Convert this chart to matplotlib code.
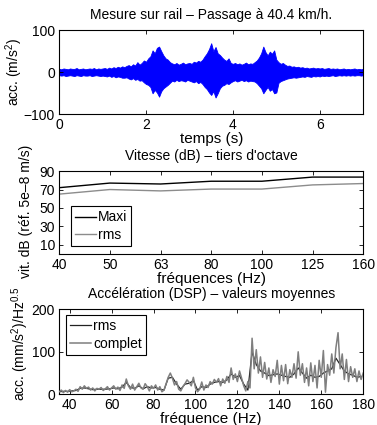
import numpy as np
import matplotlib
matplotlib.use("Agg")
import matplotlib.pyplot as plt

plt.rcParams['font.family'] = ['Liberation Sans', 'DejaVu Sans']
plt.rcParams['mathtext.fontset'] = 'custom'
plt.rcParams['mathtext.rm'] = 'Liberation Sans'
plt.rcParams['mathtext.it'] = 'Liberation Sans'

# ---------------- data ----------------
# Top: acceleration time signal envelope (every 0.05 s from 0 to 7 s)
t_step = 0.05
sig_upper = [8, 7, 9, 8, 7, 9, 8, 8, 10, 7,
             8, 9, 7, 8, 9, 8, 10, 7, 9, 8,
             9, 10, 8, 11, 9, 12, 10, 13, 11, 14,
             12, 15, 17, 14, 19, 16, 24, 18, 22, 28,
             25, 33, 38, 52, 45, 58, 61, 50, 40, 33,
             30, 24, 21, 19, 22, 18, 20, 23, 19, 21,
             22, 20, 25, 23, 27, 25, 30, 38, 45, 55,
             69, 50, 60, 45, 41, 35, 30, 27, 33, 22,
             20, 22, 19, 21, 18, 20, 23, 19, 21, 20,
             24, 28, 35, 45, 61, 48, 40, 49, 44, 52,
             30, 24, 20, 22, 18, 15, 16, 13, 14, 12,
             13, 11, 12, 10, 11, 9, 10, 11, 9, 10,
             9, 10, 8, 9, 10, 8, 9, 8, 9, 7,
             8, 9, 7, 8, 7, 8, 9, 7, 8, 7,
             8]
sig_lower = [-7, -8, -7, -9, -8, -7, -8, -9, -7, -8,
             -9, -7, -8, -8, -7, -9, -8, -7, -8, -9,
             -8, -9, -10, -8, -11, -9, -12, -10, -11, -13,
             -13, -12, -15, -17, -14, -18, -16, -20, -19, -24,
             -28, -30, -35, -50, -42, -48, -58, -45, -38, -34,
             -30, -25, -20, -22, -18, -21, -19, -20, -22, -18,
             -20, -22, -24, -21, -26, -23, -28, -35, -40, -48,
             -54, -45, -60, -50, -38, -32, -30, -26, -28, -24,
             -21, -19, -22, -20, -18, -21, -19, -22, -20, -21,
             -22, -26, -32, -38, -50, -42, -35, -44, -40, -50,
             -48, -25, -21, -19, -17, -15, -14, -13, -12, -13,
             -12, -11, -10, -11, -9, -10, -11, -9, -10, -9,
             -10, -8, -9, -8, -9, -8, -7, -9, -8, -7,
             -8, -7, -8, -7, -8, -7, -8, -7, -7, -8,
             -7]

# Middle: third-octave velocity levels
octave_labels = ['40', '50', '63', '80', '100', '125', '160']
vit_maxi = [72, 77, 76, 79, 79, 83.5, 83.5]
vit_rms = [65, 70, 68.5, 70.5, 70.5, 75, 76.5]

# Bottom: mean PSD of acceleration
dsp_freq_start, dsp_freq_end = 35, 180
dsp_complet = [6, 10, 4, 9, 5, 11, 6, 8, 12, 7,
               18, 12, 20, 14, 17, 10, 15, 8, 14, 12,
               16, 9, 13, 18, 10, 15, 20, 12, 17, 9,
               22, 14, 36, 20, 12, 24, 10, 18, 26, 15,
               12, 25, 18, 8, 20, 14, 22, 10, 18, 6,
               10, 25, 40, 50, 38, 22, 30, 12, 8, 18,
               25, 34, 28, 20, 40, 15, 6, 12, 29, 10,
               22, 16, 30, 24, 35, 28, 37, 20, 36, 26,
               42, 28, 62, 35, 48, 30, 55, 38, 20, 8,
               30, 15, 132, 60, 105, 50, 88, 40, 75, 36,
               62, 28, 58, 42, 80, 24, 68, 32, 70, 25,
               58, 40, 72, 38, 100, 45, 72, 28, 62, 20,
               74, 30, 68, 15, 80, 40, 103, 5, 70, 45,
               95, 50, 110, 145, 60, 95, 35, 82, 30, 65,
               40, 60, 30, 55, 35, 50]
dsp_rms = [6, 7, 7, 8, 9, 14,
           15, 13, 11, 12, 12, 12,
           13, 15, 13, 17, 28, 16,
           14, 20, 13, 18, 15, 16,
           12, 10, 38, 40, 24, 12,
           24, 26, 32, 10, 18, 16,
           24, 28, 30, 28, 34, 48,
           40, 44, 24, 10, 100, 70,
           55, 50, 44, 46, 48, 45,
           42, 40, 48, 62, 50, 38,
           45, 40, 42, 50, 55, 60,
           85, 70, 55, 48, 45, 40,
           42]

# ---------------- figure ----------------
fig = plt.figure(figsize=(3.77, 4.25), dpi=100)

TICK_FS = 10
TITLE_FS = 10
XLAB_FS = 11
YLAB_FS = 10

def style(ax):
    ax.tick_params(direction='in', top=True, right=True, length=3, width=0.6,
                   labelsize=TICK_FS, pad=3)
    for s in ax.spines.values():
        s.set_linewidth(0.8)

L, W = 0.157, 0.8064

# --- top
ax1 = fig.add_axes([L, 0.731, W, 0.198])
t = np.arange(len(sig_upper)) * t_step
ax1.fill_between(t, sig_lower, sig_upper, color='#0000ff', lw=0.6,
                 edgecolor='#0000ff')
ax1.set_xlim(0, 7)
ax1.set_ylim(-100, 100)
ax1.set_xticks([0, 2, 4, 6])
ax1.set_yticks([-100, 0, 100])
ax1.set_title('Mesure sur rail – Passage à 40.4 km/h.', fontsize=TITLE_FS, pad=8)
ax1.set_xlabel('temps (s)', fontsize=XLAB_FS, labelpad=0)
ax1.set_ylabel('acc. (m/s$^2$)', fontsize=YLAB_FS)
ax1.yaxis.set_label_coords(-0.112, 0.5)
style(ax1)

# --- middle
ax2 = fig.add_axes([L, 0.4024, W, 0.195])
xpos = np.arange(1, len(octave_labels) + 1)
ax2.plot(xpos, vit_maxi, color='black', lw=1.0, label='Maxi')
ax2.plot(xpos, vit_rms, color='#8c8c8c', lw=1.0, label='rms')
ax2.set_xlim(1, len(octave_labels))
ax2.set_ylim(0, 90)
ax2.set_xticks(xpos)
ax2.set_xticklabels(octave_labels)
ax2.set_yticks([10, 30, 50, 70, 90])
ax2.set_title("Vitesse (dB) – tiers d'octave", fontsize=TITLE_FS, pad=8)
ax2.set_xlabel('fréquences (Hz)', fontsize=XLAB_FS, labelpad=0)
ax2.set_ylabel('vit. dB (réf. 5e–8 m/s)', fontsize=YLAB_FS)
ax2.yaxis.set_label_coords(-0.087, 0.52)
leg2 = ax2.legend(loc='lower left', bbox_to_anchor=(0.0375, 0.096),
                  borderaxespad=0, fancybox=False, framealpha=1,
                  edgecolor='black', fontsize=TICK_FS, handlelength=1.5,
                  handletextpad=0.15, borderpad=0.3, labelspacing=0.25)
leg2.get_frame().set_linewidth(0.8)
style(ax2)

# --- bottom
ax3 = fig.add_axes([L, 0.0722, W, 0.2])
f_c = np.arange(dsp_freq_start, dsp_freq_start + len(dsp_complet))
f_r = np.arange(dsp_freq_start, dsp_freq_start + 2 * len(dsp_rms), 2)
ax3.plot(f_r, dsp_rms, color='#222222', lw=0.9, label='rms', zorder=2)
ax3.plot(f_c, dsp_complet, color='#7f7f7f', lw=1.1, label='complet', zorder=3)
ax3.set_xlim(dsp_freq_start, dsp_freq_end)
ax3.set_ylim(0, 200)
ax3.set_xticks(np.arange(40, 181, 20))
ax3.set_yticks([0, 100, 200])
ax3.set_title('Accélération (DSP) – valeurs moyennes', fontsize=TITLE_FS, pad=8)
ax3.set_xlabel('fréquence (Hz)', fontsize=XLAB_FS, labelpad=0)
ax3.set_ylabel('acc. (mm/s$^2$)/Hz$^{0.5}$', fontsize=10)
ax3.yaxis.set_label_coords(-0.093, 0.6)
leg3 = ax3.legend(loc='upper left', bbox_to_anchor=(0.022, 0.933),
                  borderaxespad=0, fancybox=False, framealpha=1,
                  edgecolor='black', fontsize=TICK_FS, handlelength=1.5,
                  handletextpad=0.15, borderpad=0.3, labelspacing=0.25)
leg3.get_frame().set_linewidth(0.8)
style(ax3)

fig.savefig('out.png', dpi=100)
